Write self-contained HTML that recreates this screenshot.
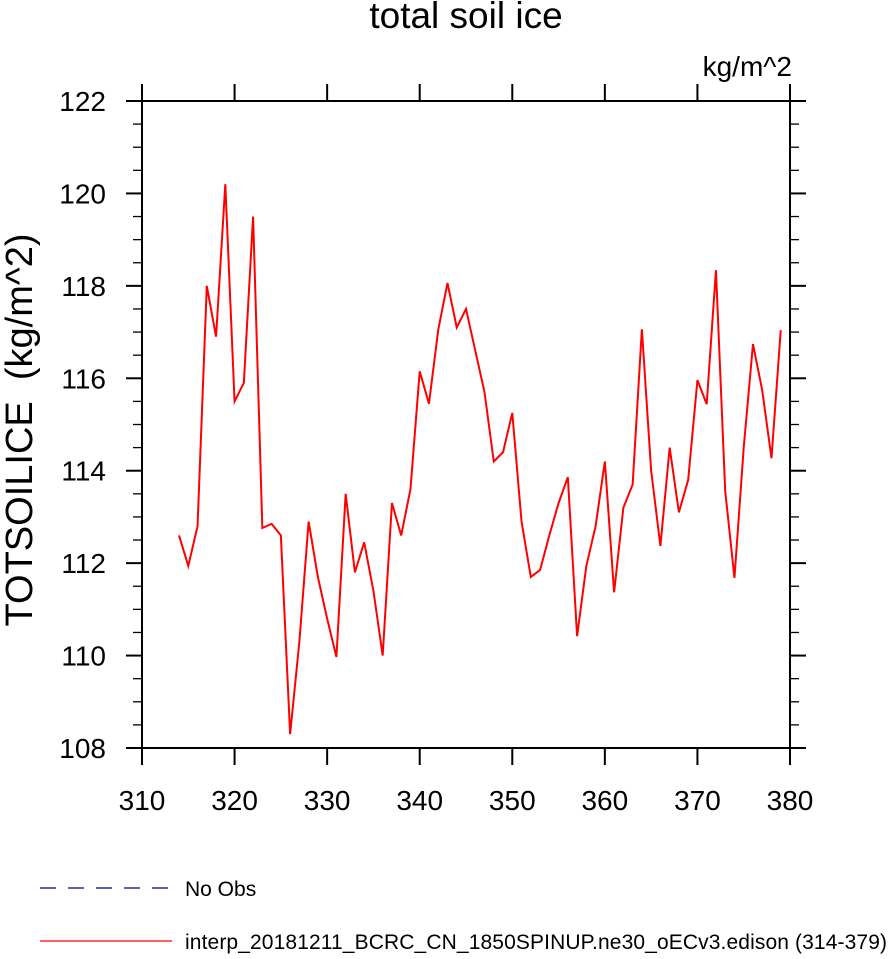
<!DOCTYPE html>
<html><head><meta charset="utf-8"><style>
body{margin:0;background:#fff;width:888px;height:954px;overflow:hidden}
text{font-family:"Liberation Sans",Helvetica,Arial,sans-serif}
</style></head><body>
<svg id="chart" width="888" height="954" viewBox="0 0 888 954" xmlns="http://www.w3.org/2000/svg">
<text x="466" y="28" font-size="37" text-anchor="middle">total soil ice</text>
<text x="792" y="76" font-size="28" text-anchor="end">kg/m^2</text>
<text transform="translate(32,430) rotate(-90)" font-size="38" text-anchor="middle" style="white-space:pre">TOTSOILICE  (kg/m^2)</text>
<g id="axes"></g>
<g id="series"></g>
<g>
<line x1="40" y1="888" x2="172" y2="888" stroke="#00008b" stroke-width="1.2" stroke-dasharray="16,12"/>
<text x="185" y="896" font-size="21">No Obs</text>
<line x1="40" y1="941" x2="172" y2="941" stroke="#ff0000" stroke-width="1.2"/>
<text x="185" y="949" font-size="21" textLength="702">interp_20181211_BCRC_CN_1850SPINUP.ne30_oECv3.edison (314-379)</text>
</g>
</svg>
<script>
const years=[];for(let y=314;y<=379;y++)years.push(y);
const values=[112.6,111.94,112.8,118.0,116.9,120.2,115.5,115.9,119.5,112.76,112.85,112.6,108.3,110.3,112.9,111.7,110.8,109.97,113.5,111.8,112.45,111.4,110.0,113.3,112.6,113.6,116.15,115.45,117.05,118.06,117.1,117.5,116.6,115.7,114.2,114.4,115.25,112.9,111.7,111.85,112.6,113.3,113.86,110.42,111.94,112.8,114.2,111.37,113.2,113.7,117.06,114.0,112.37,114.5,113.1,113.8,115.96,115.44,118.34,113.56,111.68,114.5,116.74,115.74,114.27,117.04];
const xTicks=[310,320,330,340,350,360,370,380];
const yTicks=[108,110,112,114,116,118,120,122];
const L=142,R=790,T=101,B=748,xMin=310,xMax=380,yMin=108,yMax=122;
const sx=v=>L+(v-xMin)/(xMax-xMin)*(R-L);
const sy=v=>B-(v-yMin)/(yMax-yMin)*(B-T);
const NS="http://www.w3.org/2000/svg";
const ax=document.getElementById('axes');
function mk(tag,attrs,parent){const e=document.createElementNS(NS,tag);for(const k in attrs)e.setAttribute(k,attrs[k]);parent.appendChild(e);return e;}
const fr=mk('rect',{x:L,y:T,width:R-L,height:B-T,fill:'none',stroke:'#000','stroke-width':2},ax);


xTicks.forEach(t=>{const x=sx(t);
 const a=mk('line',{x1:x,y1:B,x2:x,y2:B+17,stroke:'#000','stroke-width':2},ax);
 
 
 const b=mk('line',{x1:x,y1:T,x2:x,y2:T-17,stroke:'#000','stroke-width':2},ax);
 
 
 const tx=mk('text',{x:x,y:810,'font-size':28,'text-anchor':'middle'},ax);tx.textContent=t;
 
 
});
for(let v=yMin;v<=yMax+1e-9;v+=0.5){const y=sy(v);const major=Math.abs(v%2)<1e-9;const len=major?16:9;
 const a=mk('line',{x1:L,y1:y,x2:L-len,y2:y,stroke:'#000','stroke-width':major?2:1.3},ax);
 
 
 const b=mk('line',{x1:R,y1:y,x2:R+len,y2:y,stroke:'#000','stroke-width':major?2:1.3},ax);
 
 
}
yTicks.forEach(t=>{const tx=mk('text',{x:106,y:sy(t)+10,'font-size':28,'text-anchor':'end'},ax);tx.textContent=t;
 
 
});
const sg=document.getElementById('series');
const p=mk('polyline',{points:years.map((y,i)=>sx(y)+','+sy(values[i])).join(' '),fill:'none',stroke:'#ff0000','stroke-width':2,'stroke-linejoin':'miter'},sg);


</script>
</body></html>
